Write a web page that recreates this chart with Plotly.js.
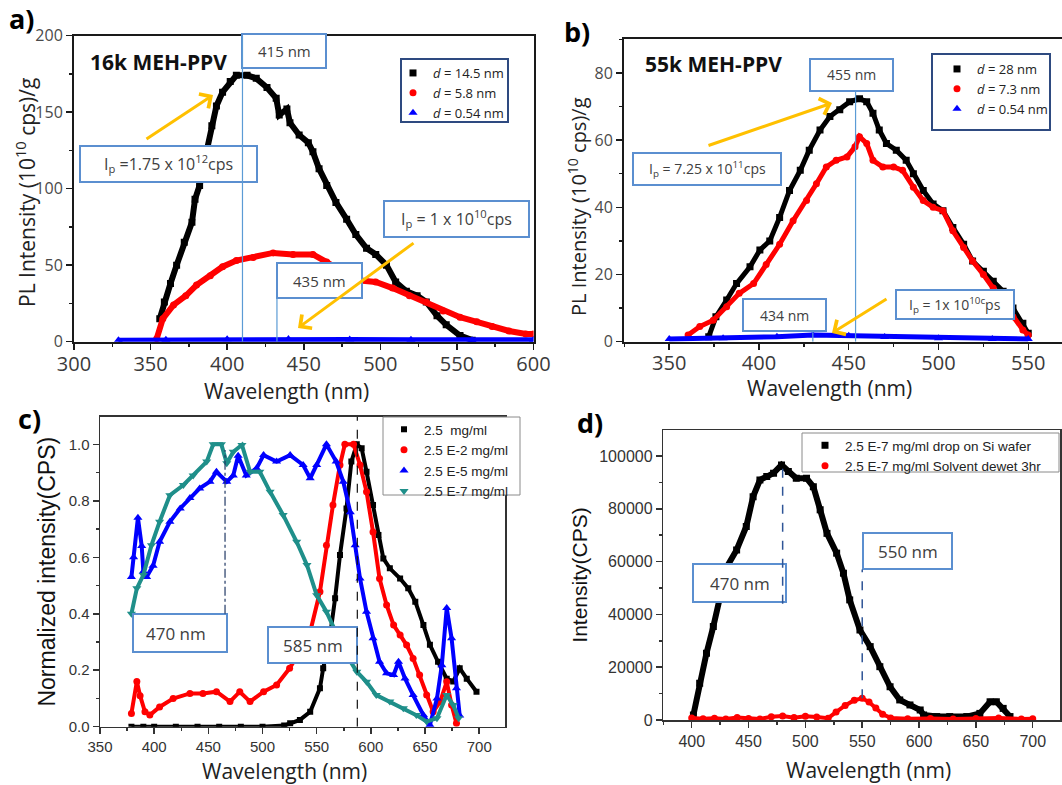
<!DOCTYPE html>
<html><head><meta charset="utf-8">
<script src="https://cdn.plot.ly/plotly-3.0.1.min.js"></script>
<style>html,body{margin:0;padding:0;background:#fff}</style>
</head><body><div id="chart" style="width:1062px;height:785px"></div>
<script>
// ---------- Panel a: 16k MEH-PPV ----------
const aWl_145 = [356, 359, 363, 367, 372, 377, 379, 382, 386.5, 390, 393, 397, 402, 406, 413, 419, 426, 432, 434, 439, 441, 447, 453, 456, 460, 465, 471, 478, 484, 491, 497, 504, 510, 517, 524, 530, 537, 543, 552, 560];
const aPL_145 = [15, 26, 38, 50, 65, 78, 93, 102, 124, 141, 154, 163, 170, 174, 174, 172, 166, 159, 148, 152, 143, 135, 130, 124, 113, 102, 91, 80, 70, 61, 57, 50, 39, 33, 30, 26, 17, 11, 4, 1];
const aWl_58 = [354, 358, 365, 373, 380, 389, 397, 406, 417, 430, 443, 456, 465, 476, 487, 497, 508, 519, 530, 541, 552, 563, 573, 584, 595, 600];
const aPL_58 = [2, 15, 24, 30, 37, 43, 49, 53, 55, 58, 57, 57, 52, 45, 40, 39, 35, 30, 26, 20, 16, 13, 10, 7, 5, 5];
const aWl_054 = [329, 360, 400, 440, 480, 520, 560, 600];
const aPL_054 = [1, 1.2, 1.6, 1.8, 1.5, 1.2, 1.0, 1.3];
const aNames = ['<i>d</i> = 14.5 nm', '<i>d</i> = 5.8 nm', '<i>d</i> = 0.54 nm'];
const aPeakLines = [410, 432.5];

// ---------- Panel b: 55k MEH-PPV ----------
const bWl_28 = [372, 376, 382, 387.5, 395, 400.5, 406, 411.5, 417, 423, 428, 434, 439.5, 445, 450.5, 456, 460, 463.5, 467, 471, 476.5, 482, 486, 491.5, 497, 502.5, 508, 514, 519, 525, 530.5, 536, 541.5, 547, 550];
const bPL_28 = [1.5, 7.4, 12.4, 17.3, 22.3, 27.3, 30, 37, 45, 51, 57, 63, 67, 69, 71.4, 72.3, 71.4, 68, 63, 59, 57, 54, 50, 45, 41, 39, 34, 29, 24, 21, 18, 15, 10, 5.5, 2.5];
const bWl_73 = [360.5, 367, 374.5, 382, 389, 397, 404, 411.5, 419, 426.5, 432, 437.5, 443, 449, 453.5, 456, 460, 463.5, 469, 475, 480, 486, 491.5, 497, 502.5, 508, 514, 519, 525, 530.5, 536, 541.5, 547, 550];
const bPL_73 = [2, 4.5, 6.4, 10.4, 14.4, 17.3, 23, 29, 36, 42, 47, 52, 54, 55, 58, 61, 59, 54, 52, 52, 51, 46, 42, 40, 39, 33, 28, 24, 20, 16, 12, 7.4, 3.5, 2];
const bWl_054 = [350, 380, 410, 430, 450, 470, 500, 530, 550];
const bPL_054 = [0.8, 1.0, 1.5, 2.0, 1.8, 1.4, 1.0, 0.8, 0.8];
const bNames = ['<i>d</i> = 28 nm', '<i>d</i> = 7.3 nm', '<i>d</i> = 0.54 nm'];
const bPeakLines = [453.8, 430];

// ---------- Panel c: normalized PL vs concentration ----------
const cWl_25 = [379, 390, 400, 420, 440, 460, 480, 500, 520, 525.5, 534.5, 544, 553, 556, 562, 567, 571.5, 577.5, 582, 587, 591.5, 596, 602, 607, 611.5, 617.5, 627, 634.5, 641, 648.5, 654.5, 662, 670, 676, 682, 688.5, 697.5];
const cI_25 = [0, 0, 0, 0, 0, 0, 0, 0, 0.004, 0.012, 0.024, 0.053, 0.136, 0.207, 0.313, 0.455, 0.608, 0.773, 0.939, 1.0, 0.986, 0.903, 0.785, 0.679, 0.596, 0.561, 0.525, 0.49, 0.443, 0.36, 0.29, 0.23, 0.17, 0.16, 0.207, 0.17, 0.124];
const cWl_e2 = [379, 384, 387, 391.5, 396, 405, 417.5, 433, 445, 457.5, 470, 479, 488.5, 501, 513, 525, 534.5, 544, 553, 559, 565, 571.5, 576, 584, 590, 596, 602, 608, 614.5, 621, 627, 633, 639, 645, 651.5, 657.5, 664, 670, 674.5, 679];
const cI_e2 = [0.047, 0.16, 0.11, 0.053, 0.041, 0.07, 0.1, 0.118, 0.118, 0.124, 0.089, 0.124, 0.089, 0.124, 0.148, 0.207, 0.266, 0.336, 0.478, 0.643, 0.785, 0.927, 1.0, 1.0, 0.927, 0.832, 0.69, 0.525, 0.431, 0.36, 0.325, 0.289, 0.242, 0.183, 0.112, 0.053, 0.089, 0.159, 0.077, 0.012];
const cWl_e5 = [379, 381, 385, 388.5, 390, 393, 399, 405, 414.5, 424, 433, 442, 451.5, 457.5, 467, 473, 477.5, 485, 494.5, 501, 513, 525.5, 537.5, 544, 550, 559, 568, 574.5, 581, 585.5, 590, 596, 602, 608, 614.5, 621, 625.5, 631.5, 639, 648.5, 654.5, 661, 665.5, 670, 674.5, 679, 682];
const cI_e5 = [0.53, 0.6, 0.74, 0.64, 0.55, 0.53, 0.57, 0.655, 0.726, 0.773, 0.81, 0.844, 0.868, 0.903, 0.868, 0.89, 0.96, 0.89, 0.915, 0.962, 0.939, 0.962, 0.927, 0.88, 0.927, 1.0, 0.939, 0.868, 0.76, 0.643, 0.525, 0.407, 0.313, 0.23, 0.189, 0.183, 0.23, 0.171, 0.112, 0.041, 0.006, 0.1, 0.218, 0.42, 0.313, 0.136, 0.04];
const cWl_e7 = [379, 384, 390, 397.5, 405, 414.5, 427, 436, 448.5, 454.5, 462, 467, 473, 481, 488.5, 497.5, 507, 519, 531.5, 541, 550, 559, 568, 577.5, 587, 596, 605, 617.5, 630, 642, 651.5, 661, 670, 676, 681];
const cI_e7 = [0.4, 0.49, 0.537, 0.643, 0.726, 0.82, 0.856, 0.89, 0.939, 1.0, 1.0, 0.933, 0.974, 0.998, 0.903, 0.903, 0.832, 0.75, 0.655, 0.573, 0.466, 0.407, 0.336, 0.254, 0.195, 0.159, 0.112, 0.089, 0.065, 0.041, 0.018, 0.03, 0.112, 0.077, 0.03];
const cNames = ['2.5  mg/ml', '2.5 E-2 mg/ml', '2.5 E-5 mg/ml', '2.5 E-7 mg/ml'];
const cPeak470 = 465.4, cPeak585 = 587.5;

// ---------- Panel d: drop vs solvent dewet ----------
const dWl_drop = [401.5, 407, 413, 419, 425, 431, 439.5, 448, 454, 460, 466, 472, 479, 485, 492, 501, 507, 513, 519, 527.5, 533.5, 539, 548, 557, 565.5, 574.5, 583, 592, 601, 604, 615.5, 627, 642, 653.5, 662.5, 668, 674, 680];
const dI_drop = [1900, 13900, 25300, 35400, 46700, 58100, 64400, 73300, 84600, 90900, 92200, 93500, 96600, 94100, 91600, 91600, 88400, 79600, 70700, 63200, 55600, 45500, 34100, 27800, 20200, 12600, 7600, 5700, 3800, 1900, 1300, 1300, 1300, 2500, 6900, 6900, 4400, 1300];
const dWl_dewet = [400, 410, 420, 430, 440, 450, 460, 470, 480, 490, 500, 510, 520, 527, 535, 543, 550, 556, 562, 568, 575, 590, 610, 630, 650, 670, 690, 700];
const dI_dewet = [800, 500, 700, 400, 900, 600, 400, 1200, 1500, 900, 1400, 1100, 700, 3000, 5500, 7500, 8200, 6800, 4500, 2200, 800, 500, 600, 400, 600, 800, 400, 500];
const dNames = ['2.5 E-7 mg/ml drop on Si wafer', '2.5 E-7 mg/ml Solvent dewet 3hr'];
const dPeak470 = [480, 44000, 96000], dPeak550 = [550, 8200, 57000];

// ---------- helpers ----------
const W = 1062, H = 785;
const px = v => v / W, py = v => 1 - v / H;
const traces = [];
function series(x, y, color, symbol, msize, lw, name, ax, leg) {
  traces.push({type:'scatter', mode:'lines', x, y, xaxis:'x'+ax, yaxis:'y'+ax,
    line:{color, width:lw}, showlegend:false, hoverinfo:'skip'});
  traces.push({type:'scatter', mode:'markers', x, y, xaxis:'x'+ax, yaxis:'y'+ax,
    marker:{color, symbol, size:msize}, name, legend:leg, showlegend:true});
}
series(aWl_145, aPL_145, '#000000', 'square', 7, 6, aNames[0], '', 'legend');
series(aWl_58, aPL_58, '#ff0000', 'circle', 7, 6, aNames[1], '', 'legend');
series(aWl_054, aPL_054, '#0000ff', 'triangle-up', 8, 5, aNames[2], '', 'legend');
series(bWl_28, bPL_28, '#000000', 'square', 7, 5, bNames[0], '2', 'legend2');
series(bWl_73, bPL_73, '#ff0000', 'circle', 7, 5, bNames[1], '2', 'legend2');
series(bWl_054, bPL_054, '#0000ff', 'triangle-up', 8, 5, bNames[2], '2', 'legend2');
series(cWl_25, cI_25, '#000000', 'square', 6, 4, cNames[0], '3', 'legend3');
series(cWl_e2, cI_e2, '#ff0000', 'circle', 7, 4, cNames[1], '3', 'legend3');
series(cWl_e5, cI_e5, '#0000ff', 'triangle-up', 8, 4, cNames[2], '3', 'legend3');
series(cWl_e7, cI_e7, '#1f8f8a', 'triangle-down', 8, 4, cNames[3], '3', 'legend3');
series(dWl_drop, dI_drop, '#000000', 'square', 7, 6, dNames[0], '4', 'legend4');
series(dWl_dewet, dI_dewet, '#ff0000', 'circle', 7, 4, dNames[1], '4', 'legend4');

function axis(o) {
  const base = {showline:true, mirror:true, linecolor:'#1a1a1a', linewidth:2, ticks:'outside',
    ticklen:6, tickwidth:1.5, tickcolor:'#1a1a1a', showgrid:false, zeroline:false, fixedrange:true};
  return Object.assign(base, o);
}
const fOS = 'Open Sans, sans-serif', fAR = 'Liberation Sans, Arial, sans-serif';

const shapes = [];
function box(x0, y0, x1, y1, color, w) {
  shapes.push({type:'rect', xref:'paper', yref:'paper', x0:px(x0), x1:px(x1), y0:py(y1), y1:py(y0),
    line:{color, width:w}, fillcolor:'#ffffff', layer:'above'});
}
const BL = '#5b8fd0';
box(242, 34, 326, 68, BL, 2);
box(80, 146, 257, 182, BL, 2);
box(384, 201, 529, 237, BL, 2);
box(277, 263, 362, 298, BL, 2);
box(810, 59, 893, 91, BL, 2);
box(633, 153, 781, 185, BL, 2);
box(743, 299, 826, 331, BL, 2);
box(896, 290, 1014, 319, BL, 2);
box(133, 614, 227, 652, BL, 2);
box(268, 627, 357, 663, BL, 2);
box(693, 564, 786, 602, BL, 2);
box(863, 533, 952, 569, BL, 2);
box(401, 59, 508, 122, '#2e4a80', 2);
box(932, 54, 1050, 130, '#2e4a80', 2);
box(383, 417, 520, 495, '#8a8a8a', 1);
box(802, 433, 1059, 472, '#8a8a8a', 1);
function vline(xa, ya, x, y0, y1, color, dash, w) {
  shapes.push({type:'line', xref:xa, yref:ya, x0:x, x1:x, y0, y1, line:{color, width:w, dash}, layer:'above'});
}
vline('x', 'y', aPeakLines[0], 0, 200, '#5b9bd5', 'solid', 1.2);
vline('x', 'y', aPeakLines[1], 0, 28.5, '#5b9bd5', 'solid', 1.2);
vline('x2', 'y2', bPeakLines[0], 0, 74.5, '#5b9bd5', 'solid', 1.2);
vline('x2', 'y2', bPeakLines[1], 0, 3.2, '#5b9bd5', 'solid', 1.2);
vline('x3', 'y3', cPeak470, 0.4, 0.98, '#203864', 'dashdot', 1.2);
vline('x3', 'y3', cPeak585, 0, 1.1, '#111111', 'dash', 1.2);
vline('x4', 'y4', dPeak470[0], dPeak470[1], dPeak470[2], '#2f5597', 'dash', 1.5);
vline('x4', 'y4', dPeak550[0], dPeak550[1], dPeak550[2], '#2f5597', 'dash', 1.5);

const annotations = [];
function txt(cx, cy, text, size, color, family, extra) {
  annotations.push(Object.assign({xref:'paper', yref:'paper', x:px(cx), y:py(cy), text, showarrow:false,
    xanchor:'center', yanchor:'middle',
    font:{family:family || fOS, size, color:color || '#404040'}}, extra || {}));
}
function arrow(tx, ty, hx, hy) {
  annotations.push({xref:'paper', yref:'paper', x:px(hx), y:py(hy), ax:tx - hx, ay:ty - hy, text:'',
    showarrow:true, arrowhead:4, arrowsize:1.1, arrowwidth:3, arrowcolor:'#ffc000'});
}
txt(21, 19, '<b>a)</b>', 27, '#000');
txt(577, 32, '<b>b)</b>', 27, '#000');
txt(29, 418, '<b>c)</b>', 27, '#000');
txt(590, 422, '<b>d)</b>', 27, '#000');
txt(88, 62, '<b>16k MEH-PPV</b>', 21, '#111', fOS, {xanchor:'left'});
txt(643, 64, '<b>55k MEH-PPV</b>', 21, '#111', fOS, {xanchor:'left'});
txt(284, 51, '415 nm', 15);
txt(168.5, 164, 'I<sub>p</sub> =1.75 x 10<sup>12</sup>cps', 16);
txt(456.5, 219, 'I<sub>p</sub> = 1 x 10<sup>10</sup>cps', 16);
txt(319.5, 280.5, '435 nm', 15);
txt(851.5, 75, '455 nm', 14);
txt(707, 169, 'I<sub>p</sub> = 7.25 x 10<sup>11</sup>cps', 14);
txt(784.5, 315, '434 nm', 14);
txt(955, 304.5, 'I<sub>p</sub> = 1x 10<sup>10c</sup>ps', 14);
txt(176, 633, '470 nm', 17);
txt(312.5, 645, '585 nm', 17);
txt(739.5, 583, '470 nm', 17);
txt(907.5, 551, '550 nm', 17);
// axis titles (placed as in the reference)
txt(286, 391, 'Wavelength (nm)', 21, '#222');
txt(829, 388, 'Wavelength (nm)', 21, '#222');
txt(284, 771, 'Wavelength (nm)', 21, '#222');
txt(868, 770, 'Wavelength (nm)', 21, '#222');
txt(26, 193, 'PL Intensity (10<sup>10</sup> cps)/g', 21, '#222', fOS, {textangle:-90});
txt(578, 207, 'PL Intensity (10<sup>10</sup> cps)/g', 20, '#222', fOS, {textangle:-90});
arrow(145, 140, 213, 95);
arrow(415, 242, 298, 328);
arrow(707, 146, 832, 103);
arrow(888, 298, 832, 333);

const legBase = (x, y, size, family) => ({x:px(x), y:py(y), xanchor:'left', yanchor:'top',
  bgcolor:'rgba(0,0,0,0)', borderwidth:0, tracegroupgap:0, itemwidth:30,
  font:{family, size, color:'#222'}});

const layout = {
  width:W, height:H, margin:{l:0, r:0, t:0, b:0}, paper_bgcolor:'#fff', plot_bgcolor:'#fff',
  showlegend:true,
  xaxis: axis({domain:[px(74), px(533.5)], range:[300, 600], anchor:'y', dtick:50, tick0:300,
    ticklabelstandoff:-3,
    minor:{ticks:'outside', ticklen:3, dtick:25, tick0:300, tickcolor:'#1a1a1a'},
    tickfont:{family:fOS, size:20, color:'#3a3a3a'}}),
  yaxis: axis({domain:[py(341.7), py(35.5)], range:[0, 200], anchor:'x', dtick:50, tick0:0,
    minor:{ticks:'outside', ticklen:3, dtick:25, tick0:0, tickcolor:'#1a1a1a'},
    tickfont:{family:fOS, size:16, color:'#4a4a4a'}}),
  xaxis2: axis({domain:[px(624), 1], range:[324.8, 568.8], anchor:'y2', dtick:50, tick0:350,
    ticklabelstandoff:-4,
    minor:{ticks:'outside', ticklen:3, dtick:25, tick0:350, tickcolor:'#1a1a1a'},
    tickfont:{family:fOS, size:20, color:'#3a3a3a'}}),
  yaxis2: axis({domain:[py(341.7), py(39.3)], range:[0, 90], anchor:'x2', dtick:20, tick0:0,
    minor:{ticks:'outside', ticklen:3, dtick:10, tick0:0, tickcolor:'#1a1a1a'},
    tickfont:{family:fOS, size:16, color:'#4a4a4a'}}),
  xaxis3: axis({domain:[px(100), px(505)], range:[350, 723.8], anchor:'y3', dtick:50, tick0:350,
    linecolor:'#333', tickcolor:'#333', linewidth:1.5,
    minor:{ticks:'outside', ticklen:3, dtick:25, tick0:350, tickcolor:'#333'},
    tickfont:{family:fAR, size:15, color:'#333'}}),
  yaxis3: axis({domain:[py(726.7), py(416.7)], range:[0, 1.098], anchor:'x3', dtick:0.2, tick0:0,
    tickformat:'.1f', linecolor:'#333', tickcolor:'#333', linewidth:1.5,
    minor:{ticks:'outside', ticklen:3, dtick:0.1, tick0:0, tickcolor:'#333'},
    tickfont:{family:fAR, size:15, color:'#333'},
    title:{text:'Normalized intensity(CPS)', font:{family:fAR, size:23, color:'#111'}, standoff:6}}),
  xaxis4: axis({domain:[px(663.3), px(1060)], range:[375, 724], anchor:'y4', dtick:50, tick0:400,
    linecolor:'#333', tickcolor:'#333', linewidth:1.5,
    minor:{ticks:'outside', ticklen:3, dtick:25, tick0:400, tickcolor:'#333'},
    tickfont:{family:fAR, size:16, color:'#333'}}),
  yaxis4: axis({domain:[py(720), py(430)], range:[0, 109850], anchor:'x4', dtick:20000, tick0:0,
    tickformat:'d', linecolor:'#333', tickcolor:'#333', linewidth:1.5,
    minor:{ticks:'outside', ticklen:3, dtick:10000, tick0:0, tickcolor:'#333'},
    tickfont:{family:fAR, size:16, color:'#333'},
    title:{text:'Intensity(CPS)', font:{family:fAR, size:21, color:'#111'}, standoff:6}}),
  legend: legBase(393, 58, 13, fOS),
  legend2: legBase(937, 54, 13, fOS),
  legend3: legBase(384, 414, 13.5, fAR),
  legend4: legBase(805, 430, 13.5, fAR),
  shapes, annotations
};
Plotly.newPlot('chart', traces, layout, {displayModeBar:false, staticPlot:true});
</script></body></html>
